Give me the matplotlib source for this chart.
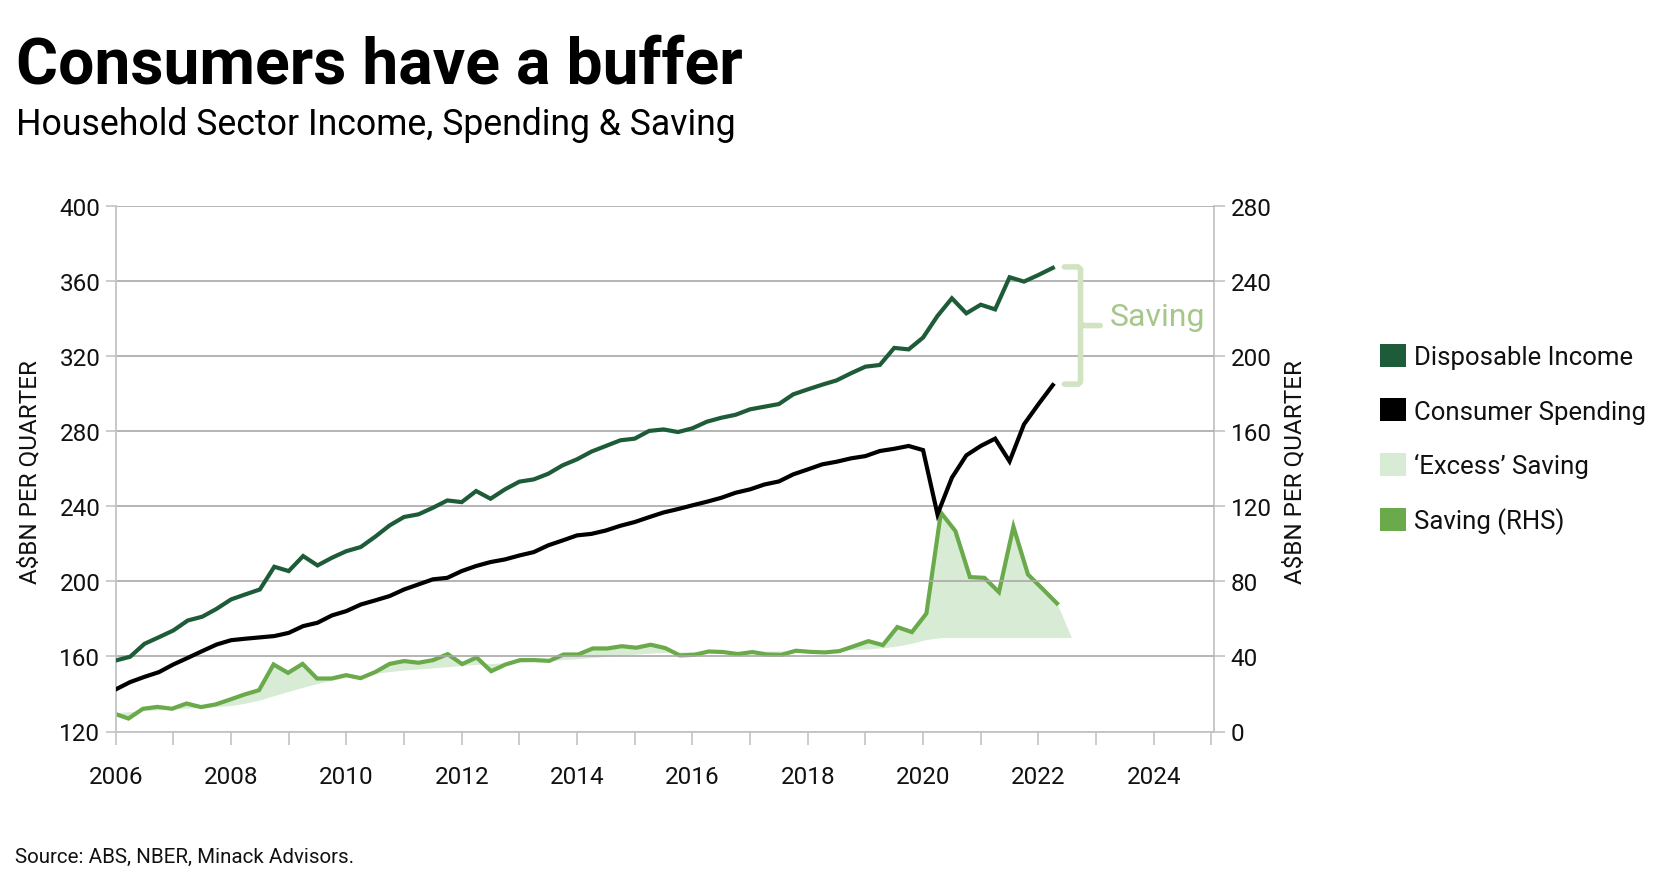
import matplotlib
matplotlib.use('Agg')
import matplotlib.pyplot as plt
from matplotlib.patches import Patch
import numpy as np

plt.rcParams['font.family'] = ['Roboto', 'DejaVu Sans']

# ---------------- data (A$bn per quarter) ----------------
start_year = 2006.0
n_quarters = 66  # 2006Q1 .. 2022Q2

disposable_income = [
    157.8, 159.8, 166.7, 170.2, 173.8, 179.1, 181.1, 185.3, 190.3, 193.0,
    195.6, 207.7, 205.4, 213.4, 208.4, 212.5, 216.0, 218.2, 223.7, 229.7,
    234.2, 235.6, 239.1, 243.0, 242.1, 248.0, 243.9, 248.9, 253.0, 254.2,
    257.2, 261.7, 264.9, 269.0, 272.0, 275.0, 275.9, 280.0, 280.8, 279.4,
    281.4, 284.9, 287.0, 288.6, 291.5, 292.9, 294.3, 299.5, 302.1, 304.6,
    306.9, 310.7, 314.2, 315.1, 324.2, 323.4, 329.7, 341.2, 350.6, 342.6,
    347.2, 344.7, 361.8, 359.5, 363.0, 366.8]

consumer_spending = [
    142.4, 146.3, 149.1, 151.6, 155.7, 159.2, 162.8, 166.3, 168.6, 169.4,
    170.1, 170.8, 172.5, 176.1, 177.9, 181.8, 184.1, 187.6, 189.8, 192.1,
    195.6, 198.3, 201.0, 201.8, 205.4, 208.1, 210.2, 211.6, 213.7, 215.5,
    219.1, 221.7, 224.4, 225.2, 227.0, 229.5, 231.5, 234.1, 236.6, 238.4,
    240.4, 242.3, 244.4, 247.1, 248.9, 251.5, 253.1, 256.9, 259.5, 262.2,
    263.6, 265.4, 266.6, 269.3, 270.5, 272.0, 269.8, 235.6, 255.1, 267.0,
    272.0, 275.9, 263.8, 283.5, 294.2, 304.4]

saving = [
    9.6, 6.9, 12.1, 13.1, 12.1, 14.9, 13.0, 14.4, 17.0, 19.7,
    22.0, 35.7, 31.2, 36.0, 28.2, 28.2, 30.0, 28.4, 31.6, 36.0,
    37.5, 36.6, 38.0, 41.2, 35.9, 39.4, 32.1, 35.7, 38.0, 38.0,
    37.6, 41.0, 41.0, 44.2, 44.2, 45.4, 44.6, 46.2, 44.4, 40.5,
    40.8, 42.6, 42.3, 41.2, 42.3, 41.0, 40.8, 43.0, 42.4, 42.1,
    42.8, 45.4, 48.1, 46.0, 55.6, 52.9, 62.8, 116.5, 106.7, 82.2,
    81.8, 74.2, 109.0, 83.6, 76.0, 68.2]

# trend saving (lower edge of the 'excess' area), one extra quarter (2022Q3)
saving_trend = [
    10.0, 10.5, 11.0, 11.5, 12.0, 12.4, 12.8, 13.2, 13.8, 15.0,
    16.7, 19.0, 21.3, 23.5, 25.5, 27.3, 28.8, 30.0, 31.0, 31.9,
    32.7, 33.3, 33.9, 34.5, 35.1, 35.7, 36.2, 36.6, 37.0, 37.4,
    37.8, 38.3, 38.8, 39.4, 40.0, 40.6, 41.2, 41.7, 42.1, 42.4,
    42.6, 42.7, 42.8, 42.8, 42.8, 42.8, 42.9, 43.0, 43.0, 43.1,
    43.3, 43.6, 44.0, 44.6, 45.5, 47.0, 49.0, 50.0, 50.0, 50.0,
    50.0, 50.0, 50.0, 50.0, 50.0, 50.0, 50.0]
excess_end_value = 50.0  # upper edge of excess area in 2022Q3

left_ticks = [120, 160, 200, 240, 280, 320, 360, 400]
right_ticks = [0, 40, 80, 120, 160, 200, 240, 280]
year_ticks = list(range(2006, 2026))
year_labels = [str(y) if y % 2 == 0 else '' for y in year_ticks]

legend_labels = ['Disposable Income', 'Consumer Spending', '\u2018Excess\u2019 Saving', 'Saving (RHS)']

# ---------------- styling ----------------
c_income = '#1e5b38'
c_spend = '#000000'
c_excess = '#d8ebd5'
c_saving = '#6aaa4b'
c_grid = '#a8a8a8'
c_spine = '#c4c4c4'
c_annot_text = '#a6c78a'
c_annot_line = '#d2e3c2'
c_text = '#111111'

dates = start_year + 0.25 * np.arange(n_quarters)
dates_ext = start_year + 0.25 * np.arange(n_quarters + 1)
excess_top = list(saving) + [excess_end_value]

W, H = 1680, 878
fig = plt.figure(figsize=(W / 100, H / 100), dpi=100)
x0, x1, ytop, ybot = 115.7, 1214.0, 206.5, 732.5
rect = [x0 / W, 1 - ybot / H, (x1 - x0) / W, (ybot - ytop) / H]

ax2 = fig.add_axes(rect, label='rhs')
ax = fig.add_axes(rect, label='lhs', facecolor='none')

# --- RHS: saving and excess saving ---
ax2.fill_between(dates_ext, excess_top, saving_trend, color=c_excess, lw=0, zorder=1)
ax2.plot(dates, saving, color=c_saving, lw=3.0, zorder=3, solid_joinstyle='miter')
ax2.set_xlim(2006.03, 2024.956)
ax2.set_ylim(0, 280)
ax2.yaxis.tick_right()
ax2.yaxis.set_label_position('right')
ax2.set_yticks(right_ticks)
ax2.xaxis.set_visible(False)
for s in ['left', 'top', 'bottom']:
    ax2.spines[s].set_visible(False)
ax2.spines['right'].set_color(c_spine)
ax2.spines['right'].set_linewidth(1.3)
ax2.tick_params(axis='y', direction='out', length=8, width=1.2, color=c_spine,
                labelsize=17.5, labelcolor=c_text, pad=4)

# --- LHS: income and spending ---
ax.plot(dates, disposable_income, color=c_income, lw=3.0, zorder=4, solid_joinstyle='miter')
ax.plot(dates, consumer_spending, color=c_spend, lw=3.0, zorder=4, solid_joinstyle='miter')
ax.set_xlim(2006, 2025.045)
ax.set_ylim(120, 400)
ax.set_yticks(left_ticks)
ax.set_xticks(year_ticks)
ax.set_xticklabels(year_labels)
ax.yaxis.grid(True, color=c_grid, lw=1.2)
ax.set_axisbelow(True)
for s in ['top', 'right']:
    ax.spines[s].set_visible(False)
for s in ['left', 'bottom']:
    ax.spines[s].set_color(c_spine)
    ax.spines[s].set_linewidth(1.3)
ax.tick_params(axis='y', direction='out', length=7, width=1.2, color=c_spine,
               labelsize=17.5, labelcolor=c_text, pad=4)
ax.tick_params(axis='x', direction='out', length=9, width=1.2, color=c_spine,
               labelsize=17.5, labelcolor=c_text, pad=15)

# --- axis titles ---
fig.text(30 / W, 1 - 472 / H, 'A\\$BN PER QUARTER', rotation=90, ha='center', va='center',
         fontsize=17.5, color=c_text)
fig.text(1295 / W, 1 - 472 / H, 'A\\$BN PER QUARTER', rotation=90, ha='center', va='center',
         fontsize=17.5, color=c_text)

# --- 'Saving' bracket annotation, anchored to the last observations ---
xe = dates[-1]
top_v = disposable_income[-1] + 0.5
bot_v = consumer_spending[-1] + 0.5
mid_v = (top_v + bot_v) / 2
bx0, bx1, bnub = xe + 0.20, xe + 0.48, xe + 0.82
ax.plot([bx0, bx1 - 0.04, bx1, bx1, bx1 - 0.04, bx0],
        [top_v, top_v, top_v - 1.2, bot_v + 1.2, bot_v, bot_v],
        color=c_annot_line, lw=4, solid_capstyle='round', solid_joinstyle='round',
        clip_on=False, zorder=2)
ax.plot([bx1, bx1 + 0.05, bnub], [mid_v + 1.5, mid_v, mid_v],
        color=c_annot_line, lw=4, solid_capstyle='round', solid_joinstyle='round',
        clip_on=False, zorder=2)
ax.text(xe + 0.99, mid_v + 5.0, 'Saving', color=c_annot_text, fontsize=23,
        ha='left', va='center')

# --- legend ---
handles = [Patch(facecolor=c_income), Patch(facecolor=c_spend),
           Patch(facecolor=c_excess), Patch(facecolor=c_saving)]
fig.legend(handles, legend_labels, loc='upper left',
           bbox_to_anchor=(1380 / W, 1 - 345 / H), frameon=False, fontsize=18.5,
           handlelength=1.0, handleheight=1.0, handletextpad=0.32,
           labelspacing=1.13, borderpad=0, borderaxespad=0, labelcolor=c_text)

# --- titles and source ---
fig.text(16 / W, 1 - 83 / H, 'Consumers have a buffer', fontsize=46.3, fontweight='bold',
         ha='left', va='baseline', color='#000000')
fig.text(16 / W, 1 - 135 / H, 'Household Sector Income, Spending & Saving', fontsize=25.7,
         ha='left', va='baseline', color='#000000')
fig.text(15 / W, 1 - 857 / H, 'Source: ABS, NBER, Minack Advisors.', fontsize=14.8,
         ha='left', va='center', color=c_text)

fig.savefig('out.png', dpi=100)
